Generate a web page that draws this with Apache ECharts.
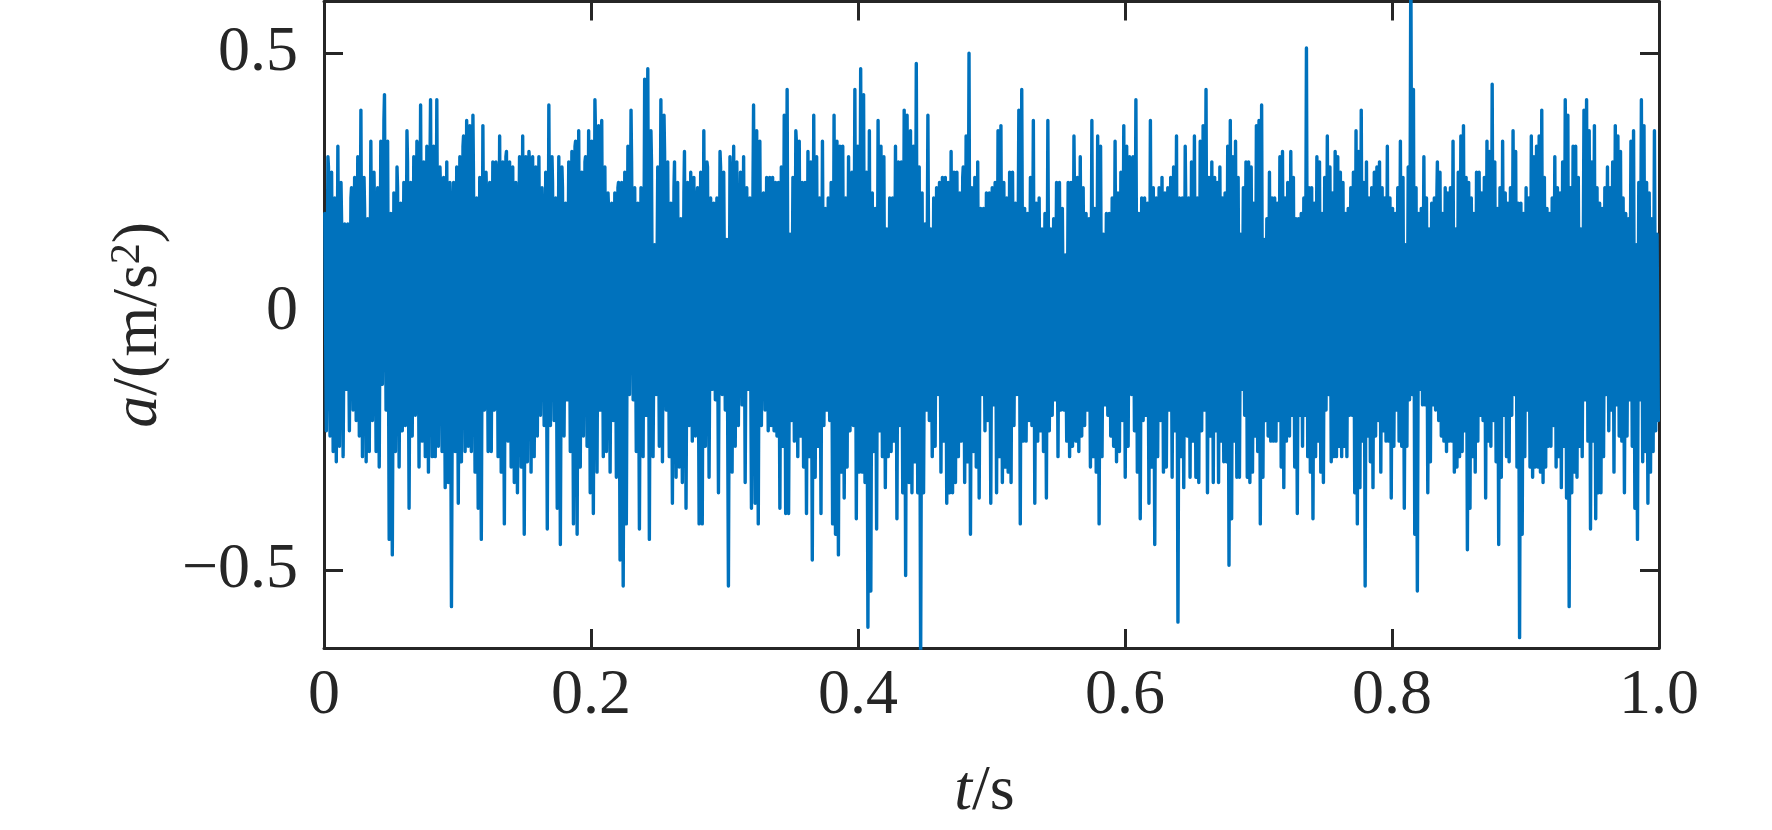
<!DOCTYPE html>
<html>
<head>
<meta charset="utf-8">
<script src="https://cdn.jsdelivr.net/npm/echarts@6/dist/echarts.min.js"></script>
<style>
html,body{margin:0;padding:0;background:#fff;}
#chart{width:1772px;height:830px;}
</style>
</head>
<body>
<div id="chart"></div>
<script>
// time boundaries (s) of the three read-off stretches of the record
const tSegments = [0, 1/3, 2/3, 1.0];

// positive peaks (m/s^2), stretch 1..3, in time order
const upper1 = [0.19,0.30,0.28,0.27,0.22,0.32,0.25,0.18,0.17,0.17,0.22,0.24,0.26,0.30,0.39,0.26,0.20,0.18,0.33,0.27,0.19,0.24,0.33,0.37,0.42,0.33,0.19,0.23,0.28,0.24,0.21,0.25,0.35,0.29,0.25,0.30,0.33,0.32,0.40,0.29,0.32,0.29,0.41,0.32,0.41,0.28,0.24,0.26,0.29,0.25,0.21,0.25,0.28,0.30,0.32,0.34,0.37,0.36,0.38,0.26,0.22,0.26,0.36,0.27,0.22,0.25,0.29,0.29,0.27,0.34,0.29,0.30,0.31,0.29,0.28,0.25,0.18,0.30,0.34,0.30,0.31,0.29,0.30,0.28,0.30,0.24,0.19,0.27,0.40,0.30,0.25,0.22,0.30,0.28,0.24,0.21,0.29,0.31,0.32,0.33,0.35,0.27,0.29,0.30,0.35,0.33,0.41,0.35,0.36,0.37,0.28,0.23,0.20,0.21,0.23,0.24,0.25,0.25,0.27,0.32,0.39,0.29,0.24,0.21,0.24,0.19,0.45,0.47,0.35,0.29,0.13,0.28,0.41,0.38,0.31,0.29,0.21,0.24,0.29,0.25,0.18,0.23,0.31,0.25,0.27,0.26,0.22,0.24,0.27,0.35,0.29,0.28,0.22,0.21,0.22,0.31,0.28,0.27,0.14,0.30,0.27,0.32,0.29,0.18,0.27,0.30,0.24,0.22,0.25,0.40,0.35,0.33,0.16,0.23,0.26];
const upper2 = [0.26,0.26,0.25,0.25,0.28,0.38,0.43,0.15,0.26,0.35,0.33,0.33,0.25,0.25,0.31,0.29,0.38,0.30,0.22,0.33,0.20,0.22,0.25,0.38,0.33,0.32,0.32,0.22,0.30,0.20,0.27,0.43,0.32,0.47,0.42,0.27,0.35,0.23,0.20,0.37,0.32,0.30,0.16,0.22,0.22,0.32,0.29,0.29,0.39,0.38,0.38,0.35,0.32,0.48,0.28,0.23,0.17,0.38,0.16,0.22,0.24,0.25,0.26,0.26,0.25,0.31,0.27,0.27,0.23,0.26,0.28,0.34,0.50,0.24,0.26,0.29,0.20,0.20,0.23,0.23,0.24,0.25,0.35,0.36,0.25,0.22,0.27,0.27,0.21,0.21,0.39,0.43,0.20,0.19,0.26,0.37,0.21,0.22,0.16,0.19,0.37,0.16,0.18,0.25,0.25,0.20,0.11,0.25,0.25,0.34,0.23,0.26,0.30,0.24,0.19,0.18,0.37,0.20,0.34,0.32,0.15,0.19,0.19,0.22,0.33,0.23,0.27,0.36,0.32,0.30,0.20,0.30,0.41,0.19,0.22,0.22,0.21,0.37,0.24,0.22,0.24,0.26,0.23,0.24,0.26,0.28,0.34,0.22,0.22,0.32,0.22,0.22,0.29,0.34,0.22,0.33,0.36,0.43,0.26,0.29];
const upper3 = [0.26,0.25,0.28,0.22,0.23,0.32,0.37,0.30,0.33,0.26,0.15,0.24,0.29,0.29,0.28,0.21,0.36,0.37,0.40,0.14,0.18,0.27,0.22,0.22,0.21,0.30,0.31,0.22,0.25,0.25,0.31,0.26,0.18,0.18,0.19,0.22,0.51,0.24,0.24,0.21,0.30,0.29,0.19,0.26,0.34,0.28,0.23,0.31,0.30,0.27,0.25,0.19,0.20,0.24,0.27,0.35,0.31,0.39,0.25,0.29,0.22,0.24,0.27,0.28,0.29,0.24,0.22,0.32,0.22,0.20,0.19,0.24,0.33,0.26,0.13,0.28,0.70,0.43,0.24,0.19,0.20,0.30,0.22,0.16,0.21,0.22,0.23,0.29,0.27,0.19,0.24,0.23,0.24,0.33,0.16,0.27,0.34,0.36,0.26,0.25,0.22,0.19,0.27,0.27,0.23,0.26,0.33,0.31,0.44,0.29,0.20,0.24,0.33,0.23,0.21,0.24,0.35,0.31,0.21,0.21,0.19,0.24,0.22,0.34,0.30,0.32,0.34,0.39,0.26,0.20,0.19,0.22,0.30,0.24,0.23,0.29,0.41,0.38,0.24,0.32,0.32,0.26,0.16,0.21,0.39,0.41,0.35,0.29,0.36,0.24,0.21,0.20,0.24,0.28,0.24,0.29,0.36,0.34,0.31,0.22,0.19,0.18,0.33,0.35,0.13,0.25,0.41,0.36,0.25,0.23,0.18,0.35,0.15];

// negative peaks (m/s^2), stretch 1..3, in time order
const lower1 = [-0.23,-0.24,-0.27,-0.29,-0.26,-0.28,-0.15,-0.23,-0.19,-0.21,-0.24,-0.28,-0.29,-0.27,-0.21,-0.27,-0.30,-0.14,-0.19,-0.44,-0.47,-0.27,-0.30,-0.23,-0.22,-0.38,-0.24,-0.20,-0.30,-0.25,-0.28,-0.31,-0.28,-0.28,-0.26,-0.27,-0.34,-0.33,-0.57,-0.27,-0.37,-0.29,-0.27,-0.26,-0.27,-0.31,-0.38,-0.44,-0.19,-0.27,-0.27,-0.19,-0.28,-0.31,-0.41,-0.25,-0.30,-0.33,-0.35,-0.30,-0.43,-0.29,-0.31,-0.28,-0.24,-0.20,-0.22,-0.42,-0.22,-0.21,-0.38,-0.45,-0.24,-0.17,-0.27,-0.41,-0.43,-0.30,-0.24,-0.26,-0.35,-0.39,-0.31,-0.19,-0.28,-0.27,-0.31,-0.21,-0.32,-0.48,-0.53,-0.41,-0.16,-0.17,-0.27,-0.42,-0.28,-0.20,-0.44,-0.28,-0.16,-0.26,-0.29,-0.19,-0.28,-0.37,-0.32,-0.30,-0.33,-0.38,-0.22,-0.25,-0.24,-0.41,-0.41,-0.26,-0.32,-0.15,-0.17,-0.35,-0.16,-0.19,-0.53,-0.31,-0.26,-0.22,-0.18,-0.33,-0.15,-0.38,-0.37,-0.41,-0.22,-0.19,-0.23];
const lower2 = [-0.22,-0.23,-0.24,-0.38,-0.26,-0.39,-0.39,-0.21,-0.25,-0.28,-0.24,-0.30,-0.39,-0.28,-0.48,-0.32,-0.26,-0.39,-0.22,-0.19,-0.21,-0.41,-0.43,-0.47,-0.31,-0.36,-0.30,-0.23,-0.22,-0.40,-0.31,-0.31,-0.33,-0.61,-0.54,-0.27,-0.42,-0.23,-0.28,-0.34,-0.28,-0.27,-0.25,-0.40,-0.22,-0.35,-0.51,-0.33,-0.35,-0.29,-0.35,-0.68,-0.35,-0.19,-0.21,-0.28,-0.26,-0.16,-0.31,-0.25,-0.37,-0.35,-0.35,-0.33,-0.28,-0.25,-0.33,-0.29,-0.43,-0.27,-0.30,-0.36,-0.16,-0.23,-0.21,-0.37,-0.18,-0.35,-0.28,-0.33,-0.30,-0.31,-0.33,-0.22,-0.16,-0.41,-0.25,-0.25,-0.21,-0.22,-0.37,-0.25,-0.23,-0.27,-0.36,-0.23,-0.20,-0.17,-0.28,-0.19,-0.19,-0.25,-0.28,-0.26,-0.25,-0.27,-0.24,-0.22,-0.19,-0.30,-0.28,-0.31,-0.41,-0.28,-0.18,-0.20,-0.24,-0.26,-0.29,-0.27,-0.21,-0.32,-0.26,-0.16,-0.23,-0.31,-0.40,-0.21,-0.20,-0.37,-0.30,-0.45,-0.28,-0.21,-0.31,-0.30,-0.19,-0.32,-0.23,-0.60,-0.28,-0.34,-0.24,-0.32,-0.25,-0.32,-0.33,-0.23,-0.19,-0.35,-0.24,-0.33];
const lower3 = [-0.23,-0.33,-0.25,-0.29,-0.29,-0.49,-0.40,-0.25,-0.32,-0.32,-0.15,-0.20,-0.32,-0.33,-0.31,-0.24,-0.27,-0.41,-0.32,-0.21,-0.24,-0.25,-0.25,-0.25,-0.21,-0.30,-0.34,-0.25,-0.24,-0.20,-0.30,-0.39,-0.20,-0.26,-0.20,-0.28,-0.31,-0.40,-0.28,-0.25,-0.31,-0.33,-0.19,-0.16,-0.29,-0.28,-0.28,-0.26,-0.28,-0.26,-0.28,-0.20,-0.20,-0.35,-0.41,-0.34,-0.25,-0.53,-0.24,-0.29,-0.34,-0.24,-0.21,-0.31,-0.23,-0.25,-0.25,-0.36,-0.26,-0.19,-0.25,-0.26,-0.38,-0.26,-0.17,-0.16,-0.43,-0.54,-0.15,-0.18,-0.18,-0.35,-0.29,-0.18,-0.19,-0.21,-0.24,-0.25,-0.27,-0.25,-0.25,-0.31,-0.30,-0.28,-0.27,-0.23,-0.46,-0.38,-0.28,-0.31,-0.25,-0.20,-0.21,-0.36,-0.25,-0.26,-0.21,-0.29,-0.45,-0.32,-0.20,-0.28,-0.29,-0.20,-0.16,-0.30,-0.63,-0.43,-0.28,-0.19,-0.30,-0.32,-0.30,-0.30,-0.31,-0.33,-0.30,-0.26,-0.26,-0.22,-0.30,-0.28,-0.34,-0.26,-0.36,-0.57,-0.35,-0.31,-0.32,-0.26,-0.28,-0.17,-0.25,-0.42,-0.25,-0.40,-0.35,-0.35,-0.28,-0.16,-0.23,-0.19,-0.31,-0.18,-0.24,-0.25,-0.35,-0.24,-0.17,-0.26,-0.38,-0.44,-0.17,-0.29,-0.27,-0.37,-0.31,-0.27,-0.23,-0.21];

// axis ticks
const xTickValues = [0, 0.2, 0.4, 0.6, 0.8, 1.0];
const xTickLabels = ['0', '0.2', '0.4', '0.6', '0.8', '1.0'];
const yTickValues = [-0.5, 0, 0.5];
const yTickLabels = ['\u22120.5', '0', '0.5'];

const uppers = [upper1, upper2, upper3];
const lowers = [lower1, lower2, lower3];

// assemble the record: within each stretch, order the peaks in time; samples that
// follow a peak of the same sign sit closer, so zero crossings are evenly spaced
const signal = [];
for (let k = 0; k < 3; k++) {
  const t0 = tSegments[k], t1 = tSegments[k + 1];
  const seq = [];
  uppers[k].forEach((v, i) => seq.push({ r: (i + 0.25) / uppers[k].length, v: v }));
  lowers[k].forEach((v, i) => seq.push({ r: (i + 0.75) / lowers[k].length, v: v }));
  seq.sort((a, b) => a.r - b.r);
  const pos = [0.5];
  for (let j = 1; j < seq.length; j++) {
    const sameSign = (seq[j].v > 0) === (seq[j - 1].v > 0);
    pos.push(pos[j - 1] + (sameSign ? 0.35 : 1));
  }
  const total = pos[pos.length - 1] + 0.5;
  seq.forEach((p, j) => signal.push([t0 + pos[j] / total * (t1 - t0), p.v]));
}

const FONT = '"Liberation Serif", "Times New Roman", serif';
const INK = '#262626';

function labelFrom(values, labels) {
  return function (v) {
    for (let i = 0; i < values.length; i++) if (Math.abs(values[i] - v) < 1e-9) return labels[i];
    return '';
  };
}

const axisLineStyle = { color: INK, width: 3 };
const tickCommon = { show: true, inside: true, length: 19, lineStyle: { color: INK, width: 3 } };

const chart = echarts.init(document.getElementById('chart'), null, { renderer: 'canvas' });
chart.setOption({
  animation: false,
  backgroundColor: '#ffffff',
  grid: { left: 324, right: 113, top: 1.5, bottom: 182, containLabel: false },
  xAxis: [
    {
      type: 'value', min: 0, max: 1, position: 'bottom',
      axisLine: { show: true, onZero: false, lineStyle: axisLineStyle },
      axisTick: Object.assign({ customValues: xTickValues }, tickCommon),
      axisLabel: {
        customValues: xTickValues, formatter: labelFrom(xTickValues, xTickLabels),
        fontFamily: FONT, fontSize: 64, color: INK, margin: 16
      },
      splitLine: { show: false },
      name: '{it|t}/s', nameLocation: 'middle', nameGap: 112,
      nameTextStyle: {
        fontFamily: FONT, fontSize: 64, color: INK, padding: [0, 14, 0, 0],
        rich: { it: { fontFamily: FONT, fontSize: 64, fontStyle: 'italic', color: INK } }
      }
    },
    {
      type: 'value', min: 0, max: 1, position: 'top',
      axisLine: { show: true, onZero: false, lineStyle: axisLineStyle },
      axisTick: Object.assign({ customValues: xTickValues }, tickCommon),
      axisLabel: { show: false },
      splitLine: { show: false }
    }
  ],
  yAxis: [
    {
      type: 'value', min: -0.65, max: 0.6, position: 'left',
      axisLine: { show: true, onZero: false, lineStyle: axisLineStyle },
      axisTick: Object.assign({ customValues: yTickValues }, tickCommon),
      axisLabel: {
        customValues: yTickValues, formatter: labelFrom(yTickValues, yTickLabels),
        fontFamily: FONT, fontSize: 64, color: INK, margin: 26
      },
      splitLine: { show: false },
      name: '{it|a}/(m/s{sup|2})', nameLocation: 'middle', nameGap: 150,
      nameTextStyle: {
        fontFamily: FONT, fontSize: 64, color: INK, lineHeight: 64,
        rich: {
          it: { fontFamily: FONT, fontSize: 64, fontStyle: 'italic', color: INK, lineHeight: 64 },
          sup: { fontFamily: FONT, fontSize: 42, color: INK, verticalAlign: 'top', lineHeight: 42 }
        }
      }
    },
    {
      type: 'value', min: -0.65, max: 0.6, position: 'right',
      axisLine: { show: true, onZero: false, lineStyle: axisLineStyle },
      axisTick: Object.assign({ customValues: yTickValues }, tickCommon),
      axisLabel: { show: false },
      splitLine: { show: false }
    }
  ],
  series: [{
    type: 'line',
    xAxisIndex: 0, yAxisIndex: 0,
    data: signal,
    showSymbol: false,
    symbol: 'none',
    clip: true,
    lineStyle: { color: '#0072BD', width: 3.4, join: 'round', cap: 'round' },
    z: 3
  }]
});
</script>
</body>
</html>
